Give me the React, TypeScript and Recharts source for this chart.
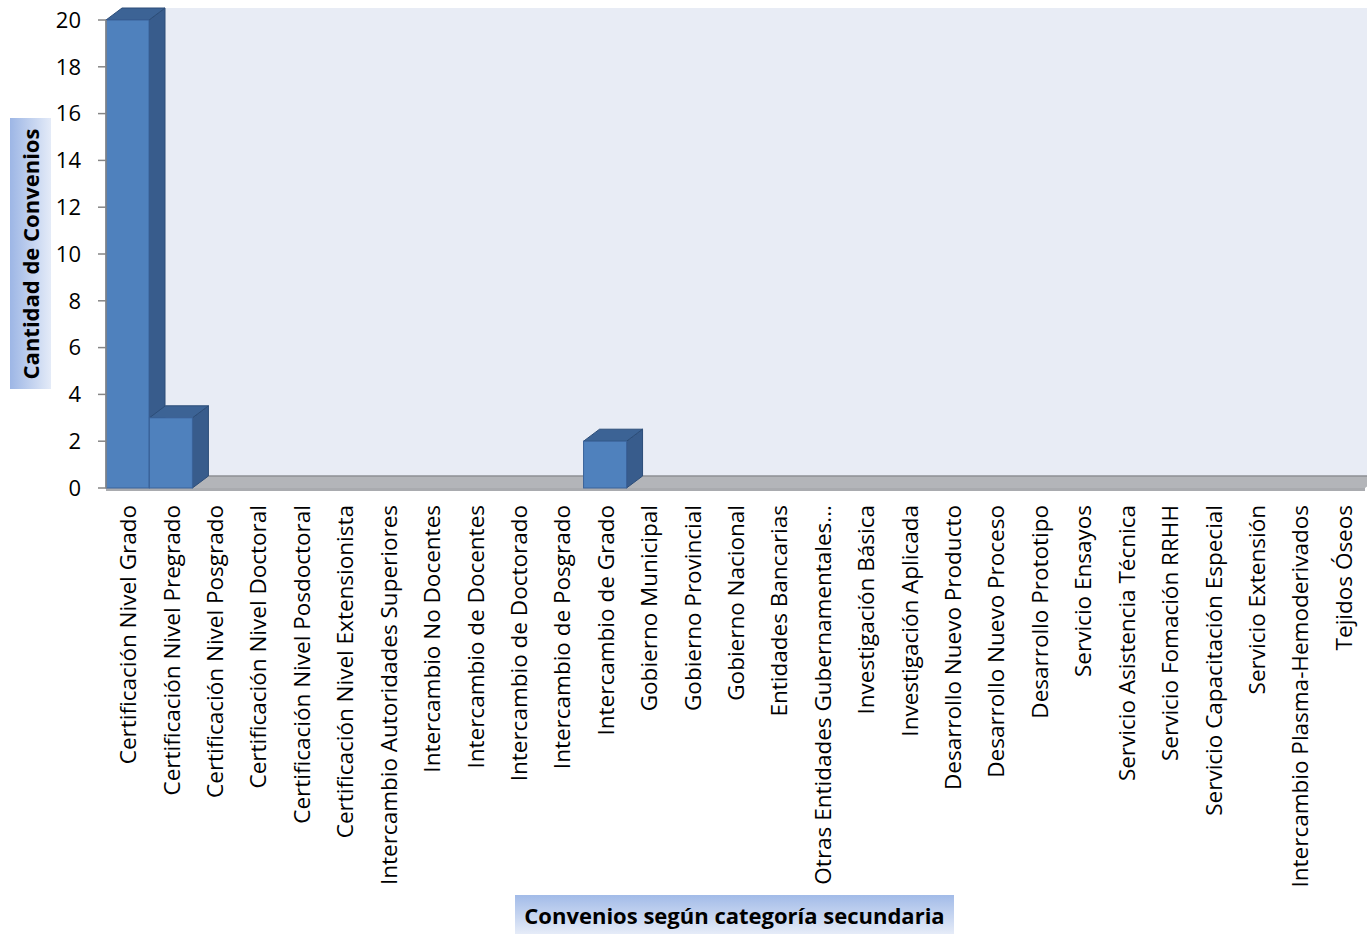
import React from "react";
import { BarChart, Bar, XAxis, YAxis, ReferenceArea } from "recharts";

const categories = [
  "Certificación Nivel Grado",
  "Certificación Nivel Pregrado",
  "Certificación Nivel Posgrado",
  "Certificación Nivel Doctoral",
  "Certificación Nivel Posdoctoral",
  "Certificación Nivel Extensionista",
  "Intercambio Autoridades Superiores",
  "Intercambio No Docentes",
  "Intercambio de Docentes",
  "Intercambio de Doctorado",
  "Intercambio de Posgrado",
  "Intercambio de Grado",
  "Gobierno Municipal",
  "Gobierno Provincial",
  "Gobierno Nacional",
  "Entidades Bancarias",
  "Otras Entidades Gubernamentales...",
  "Investigación Básica",
  "Investigación Aplicada",
  "Desarrollo Nuevo Producto",
  "Desarrollo Nuevo Proceso",
  "Desarrollo Prototipo",
  "Servicio Ensayos",
  "Servicio Asistencia Técnica",
  "Servicio Fomación RRHH",
  "Servicio Capacitación Especial",
  "Servicio Extensión",
  "Intercambio Plasma-Hemoderivados",
  "Tejidos Óseos",
];

const convenios = [20, 3, 0, 0, 0, 0, 0, 0, 0, 0, 0, 2, 0, 0, 0, 0, 0, 0, 0, 0, 0, 0, 0, 0, 0, 0, 0, 0, 0];

const yTicks = [0, 2, 4, 6, 8, 10, 12, 14, 16, 18, 20];

const data = categories.map((name, i) => ({ name, value: convenios[i] }));

const FONT = "'Open Sans', Lato, sans-serif";
const DX = 16; // 3d depth, horizontal
const DY = 12; // 3d depth, vertical

// front face + side + top, Excel style column
const Bar3D = (props: any) => {
  const { x, y, width, height } = props;
  if (!height || height <= 0) return null;
  const r = x + width;
  const b = y + height;
  return (
    <g>
      <polygon
        points={`${r},${y} ${r + DX},${y - DY} ${r + DX},${b - DY} ${r},${b}`}
        fill="#385C8C"
        stroke="#2C4D78"
        strokeWidth={1}
      />
      <polygon
        points={`${x},${y} ${x + DX},${y - DY} ${r + DX},${y - DY} ${r},${y}`}
        fill="#3C6395"
        stroke="#2C4D78"
        strokeWidth={1}
      />
      <rect x={x} y={y} width={width} height={height} fill="#4F81BD" stroke="#3A639A" strokeWidth={1} />
    </g>
  );
};

// back wall and floor of the 3d plot area
const Walls = (props: any) => {
  const { x, y, width, height } = props;
  const b = y + height;
  const r = x + width;
  return (
    <g>
      <rect x={x + DX} y={y - DY} width={width} height={height} fill="#E8ECF5" />
      <rect x={x} y={b} width={width} height={3} fill="#A9ABAF" />
      <polygon
        points={`${x},${b} ${r},${b} ${r + DX},${b - DY} ${x + DX},${b - DY}`}
        fill="#B3B5B9"
      />
      <line x1={x + DX} y1={b - DY} x2={r + DX} y2={b - DY} stroke="#8E9094" strokeWidth={1.5} />
    </g>
  );
};

const XTick = (props: any) => {
  const { x, y, payload } = props;
  return (
    <text
      transform={`translate(${x},${y + 17}) rotate(-90)`}
      textAnchor="end"
      dominantBaseline="central"
      fontSize={22.5}
      fontFamily={FONT}
      fill="#000"
    >
      {payload.value}
    </text>
  );
};

export default function App() {
  return (
    <div style={{ position: "absolute", left: 0, top: 0, width: 1367, height: 934, background: "#fff" }}>
      <BarChart
        width={1367}
        height={934}
        data={data}
        margin={{ top: 20, right: 2, left: 0, bottom: 0 }}
        barCategoryGap={0}
        barGap={0}
      >
        <ReferenceArea y1={0} y2={20} shape={<Walls />} zIndex={-60} ifOverflow="visible" />
        <XAxis
          dataKey="name"
          interval={0}
          height={446}
          axisLine={false}
          tickLine={false}
          tickSize={0}
          tickMargin={0}
          tick={<XTick />}
        />
        <YAxis
          width={106}
          domain={[0, 20]}
          ticks={yTicks}
          interval={0}
          axisLine={{ stroke: "#868686", strokeWidth: 1.5 }}
          tickLine={{ stroke: "#868686", strokeWidth: 1.5 }}
          tickSize={8}
          tickMargin={17}
          tick={{ fill: "#000", fontSize: 22, fontFamily: FONT }}
        />
        <Bar dataKey="value" shape={<Bar3D />} isAnimationActive={false} />
      </BarChart>

      <div
        style={{
          position: "absolute",
          left: 10,
          top: 118,
          width: 41,
          height: 271,
          background: "linear-gradient(to right, #9DB6E5, #E4EBF8)",
          display: "flex",
          alignItems: "center",
          justifyContent: "center",
        }}
      >
        <div
          style={{
            transform: "rotate(-90deg)",
            whiteSpace: "nowrap",
            fontFamily: FONT,
            fontWeight: 700,
            fontSize: 22,
            color: "#000",
          }}
        >
          Cantidad de Convenios
        </div>
      </div>

      <div
        style={{
          position: "absolute",
          left: 515,
          top: 895,
          width: 439,
          height: 39,
          background: "linear-gradient(to bottom, #A2BBE8, #E6ECF8)",
          display: "flex",
          alignItems: "center",
          justifyContent: "center",
          fontFamily: FONT,
          fontWeight: 700,
          fontSize: 22,
          color: "#000",
          whiteSpace: "nowrap",
        }}
      >
        Convenios según categoría secundaria
      </div>
    </div>
  );
}
